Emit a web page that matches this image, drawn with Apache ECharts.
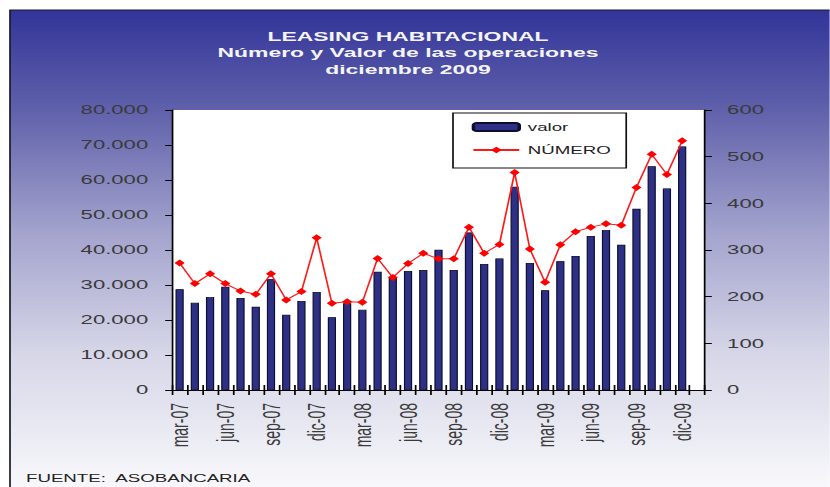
<!DOCTYPE html>
<html>
<head>
<meta charset="utf-8">
<script src="https://cdn.jsdelivr.net/npm/echarts@6/dist/echarts.min.js"></script>
<style>
html,body{margin:0;padding:0;background:#fff;overflow:hidden;width:830px;height:487px;}
#wrap{width:830px;height:487px;overflow:hidden;position:relative;}
#chart{position:absolute;left:0;top:0;width:488.235px;height:487px;transform:scaleX(1.7);transform-origin:0 0;}
</style>
</head>
<body>
<div id="wrap"><div id="chart"></div></div>
<script>
// ---- data ----
const categories = [
  'mar-07','abr-07','may-07','jun-07','jul-07','ago-07','sep-07','oct-07','nov-07','dic-07',
  'ene-08','feb-08','mar-08','abr-08','may-08','jun-08','jul-08','ago-08','sep-08','oct-08','nov-08','dic-08',
  'ene-09','feb-09','mar-09','abr-09','may-09','jun-09','jul-09','ago-09','sep-09','oct-09','nov-09','dic-09',
  ''
];
const valor = [
  28800, 24900, 26600, 29500, 26300, 23800, 31700, 21500, 25400, 28000,
  20800, 24800, 22900, 33800, 32000, 34000, 34300, 40100, 34300, 45000, 36000, 37600,
  58100, 36300, 28500, 36800, 38300, 44000, 45700, 41500, 51800, 63900, 57600, 69600
];
const numero = [
  272, 228, 249, 228, 212, 205, 249, 193, 211, 326,
  186, 189, 188, 282, 241, 271, 293, 281, 281, 349, 293, 312,
  466, 302, 231, 311, 339, 349, 356, 353, 434, 505, 462, 534
];
const leftTickLabels = ['0','10.000','20.000','30.000','40.000','50.000','60.000','70.000','80.000'];
const rightTickLabels = ['0','100','200','300','400','500','600'];
const titleLines = ['LEASING HABITACIONAL', 'Número y Valor de las operaciones', 'diciembre 2009'];
const sourceText = 'FUENTE:  ASOBANCARIA';
const seriesNames = ['valor', 'NÚMERO'];

// ---- layout helpers (chart is drawn narrow and stretched horizontally) ----
const SX = 1.7;
const W = 830 / SX;
const px = x => x / SX;
const FONT = 'Liberation Sans, Arial, sans-serif';

const chart = echarts.init(document.getElementById('chart'), null, {renderer: 'svg', width: W, height: 487});

const option = {
  animation: false,
  textStyle: {fontFamily: FONT},
  graphic: [
    {
      type: 'rect', z: -100, silent: true,
      shape: {x: px(10), y: 10, width: W, height: 490},
      style: {
        fill: {type: 'linear', x: 0, y: 0, x2: 0, y2: 1, colorStops: [
          {offset: 0, color: '#323499'},
          {offset: 0.2, color: '#5f60aa'},
          {offset: 0.45, color: '#a2a2cd'},
          {offset: 0.7, color: '#d6d6e8'},
          {offset: 1, color: '#fbfbfd'}
        ]},
        stroke: '#1a1a2a', lineWidth: 1
      }
    },
    {
      type: 'text', z: 10, silent: true,
      x: px(26), y: 478,
      style: {text: sourceText, fontSize: 11, fontFamily: FONT, fill: '#222', align: 'left', verticalAlign: 'middle'}
    }
  ],
  title: {
    text: titleLines.join('\n'),
    left: px(408), textAlign: 'center', top: 28, padding: 0,
    textStyle: {color: '#f4f4f6', fontSize: 13.5, fontWeight: 'bold', fontFamily: FONT, lineHeight: 16.5}
  },
  legend: {
    orient: 'vertical', left: px(453), top: 113,
    padding: [7, 9, 11, 11], itemWidth: 27, itemHeight: 8, itemGap: 9,
    backgroundColor: '#fff', borderColor: '#111', borderWidth: 1, borderRadius: 0,
    textStyle: {fontSize: 11, color: '#222', lineHeight: 14, fontFamily: FONT},
    data: seriesNames
  },
  grid: {
    left: px(172), right: W - px(705), top: 110, bottom: 487 - 390,
    show: true, backgroundColor: '#ffffff', borderWidth: 0, containLabel: false
  },
  xAxis: [
    {
      type: 'category', data: categories, boundaryGap: true,
      axisLine: {show: true, lineStyle: {color: '#000', width: 1}},
      axisTick: {show: true, interval: 0, length: 5, lineStyle: {color: '#000'}},
      axisLabel: {interval: 2, rotate: 90, margin: 13, fontSize: 14, color: '#3a3a3a', fontFamily: FONT},
      splitLine: {show: false}
    },
    {
      type: 'category', data: categories, boundaryGap: true, position: 'bottom',
      axisLine: {show: false},
      axisTick: {show: true, inside: true, interval: 0, length: 5, lineStyle: {color: '#000'}},
      axisLabel: {show: false},
      splitLine: {show: false}
    }
  ],
  yAxis: [
    {
      type: 'value', min: 0, max: 80000, interval: 10000, position: 'left',
      axisLine: {show: true, lineStyle: {color: '#000', width: 1}},
      axisTick: {show: true, length: 4, lineStyle: {color: '#000'}},
      axisLabel: {margin: 14, fontSize: 13, color: '#3a3a3a', fontFamily: FONT,
        formatter: v => leftTickLabels[Math.round(v / 10000)]},
      splitLine: {show: false}
    },
    {
      type: 'value', min: 0, max: 600, interval: 100, position: 'right',
      axisLine: {show: true, lineStyle: {color: '#000', width: 1}},
      axisTick: {show: true, length: 4, lineStyle: {color: '#000'}},
      axisLabel: {margin: 13, fontSize: 13, color: '#3a3a3a', fontFamily: FONT,
        formatter: v => rightTickLabels[Math.round(v / 100)]},
      splitLine: {show: false}
    }
  ],
  series: [
    {
      name: seriesNames[0], type: 'bar', data: valor, barWidth: '54%',
      itemStyle: {color: '#2e3086', borderColor: '#0d0d30', borderWidth: 0.7}
    },
    {
      name: seriesNames[1], type: 'line', yAxisIndex: 1, data: numero,
      symbol: 'diamond', symbolSize: [6, 7], showAllSymbol: true,
      lineStyle: {color: '#ff1a1a', width: 1},
      itemStyle: {color: '#ff0000'}
    }
  ]
};
chart.setOption(option);
</script>
</body>
</html>
